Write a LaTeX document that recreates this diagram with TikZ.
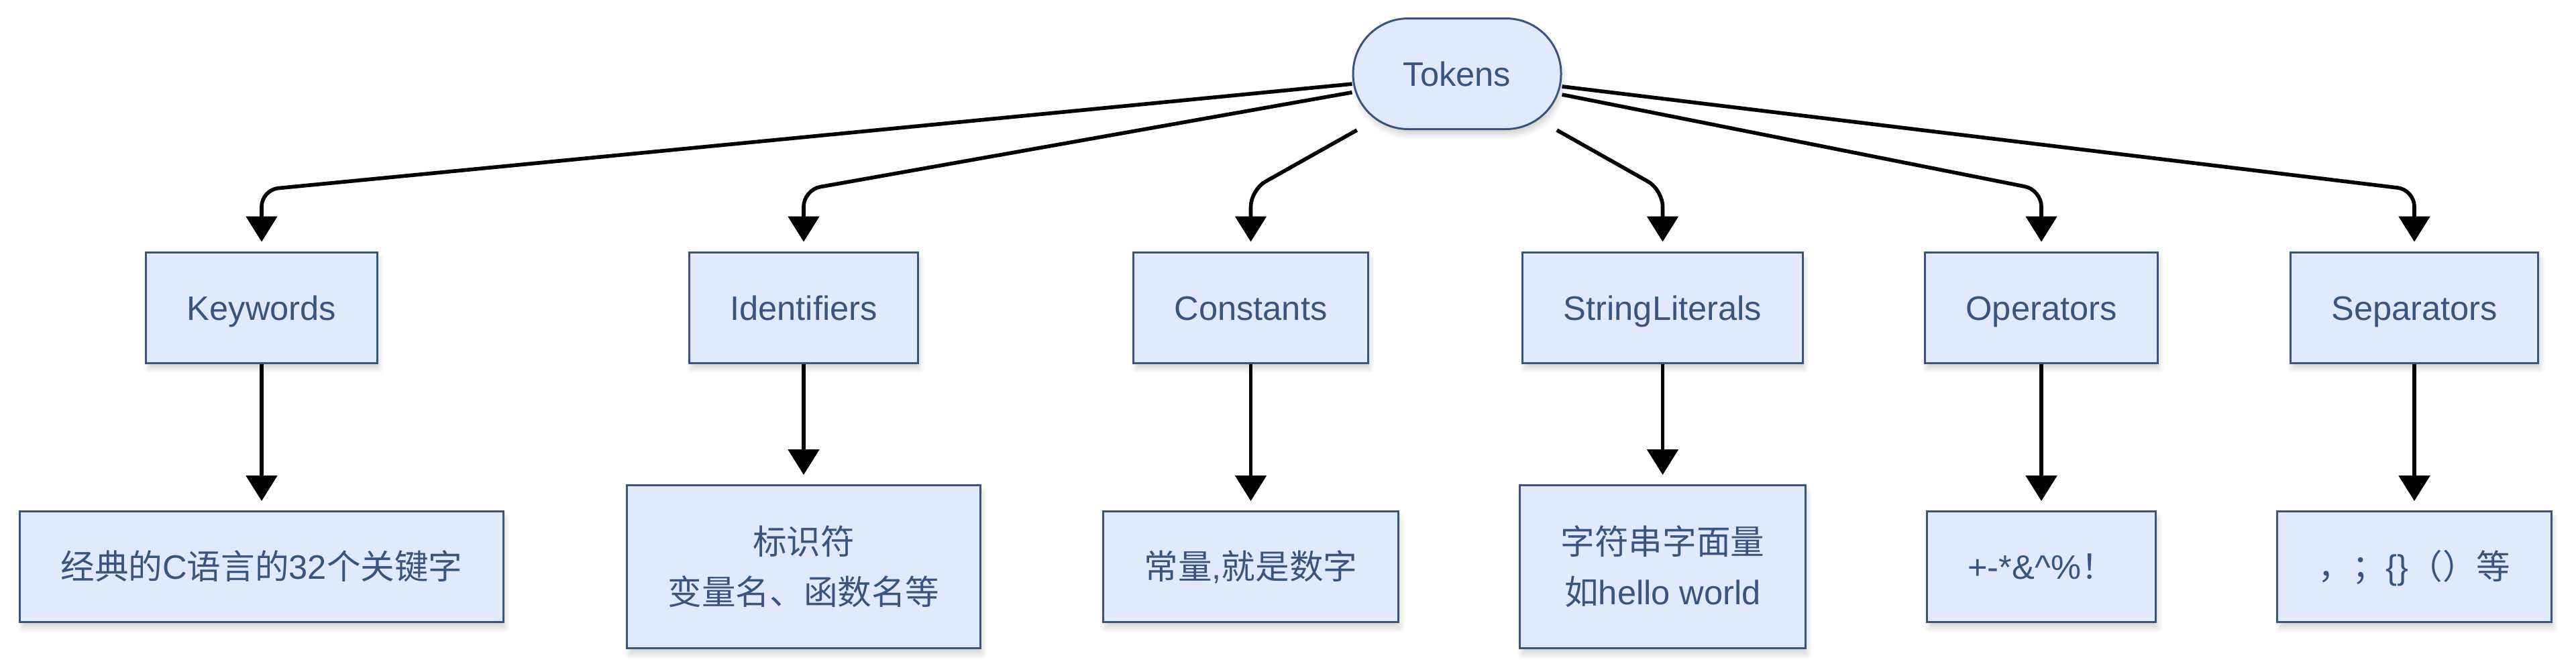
\documentclass[tikz,border=0pt]{standalone}
\usepackage{fontspec}
\setmainfont{Liberation Sans}
\newfontfamily\zhfont{Noto Sans CJK SC}
\usepackage{tikz}
\usetikzlibrary{arrows.meta, positioning, calc, shadows.blur}
\definecolor{boxfill}{RGB}{224,234,252}
\definecolor{boxline}{RGB}{58,84,128}
\newcommand{\zh}[1]{{\zhfont #1}}
\tikzset{
  >={Triangle[length=0.38cm, width=0.46cm]},
  soft/.style  = {blur shadow={shadow xshift=0.3mm, shadow yshift=-0.9mm,
                  shadow blur steps=10, shadow opacity=16}},
  box/.style   = {draw=boxline, line width=0.85pt, fill=boxfill, text=boxline,
                  rectangle, minimum height=1.65cm, inner xsep=0.61cm,
                  font=\fontsize{14.4pt}{21.3pt}\selectfont, align=center, soft},
  cat/.style   = {box, text height=0.37cm, text depth=0pt},
  root/.style  = {cat, rounded corners=0.82cm, minimum width=3.1cm, inner xsep=0pt},
  desc/.style  = {cat},
  tall/.style  = {box, minimum height=2.43cm},
  arrow/.style = {->, line width=1.6pt, shorten >=0.14cm},
}
\begin{document}
\begin{tikzpicture}
  \useasboundingbox (0,0) rectangle (38.4,-9.98);

  % root
  \node[root] (tok) at (21.72,-1.10) {Tokens};

  % token classes
  \node[cat] (kw)  at (3.90,-4.585)  {Keywords};
  \node[cat] (id)  at (11.98,-4.585) {Identifiers};
  \node[cat] (con) at (18.645,-4.585) {Constants};
  \node[cat] (str) at (24.785,-4.585) {StringLiterals};
  \node[cat] (op)  at (30.43,-4.585) {Operators};
  \node[cat] (sep) at (35.99,-4.585) {Separators};

  % descriptions
  \coordinate (descrow) at (0,-8.45);
  \node[desc] (kwd)  at (kw |- descrow)  {\zh{经典的}C\zh{语言的}32\zh{个关键字}};
  \node[tall] (idd)  at (id |- descrow)  {\zh{标识符}\\\zh{变量名、函数名等}};
  \node[desc] (cond) at (con |- descrow) {\zh{常量},\zh{就是数字}};
  \node[tall] (strd) at (str |- descrow) {\zh{字符串字面量}\\\zh{如}hello world};
  \node[desc] (opd)  at (op |- descrow)  {+-*\&\^{}\%\zh{！}};
  \node[desc] (sepd) at (sep |- descrow) {\zh{，；}\{\}\zh{（）等}};

  % connectors
  \coordinate (bend) at (0,-2.83);
  \foreach \n in {kw, id, con, str, op, sep}
    \draw[arrow, rounded corners=0.25cm] (tok) -- (\n.north |- bend) -- (\n.north);
  \foreach \a/\b in {kw/kwd, id/idd, con/cond, str/strd, op/opd, sep/sepd}
    \draw[arrow] (\a) -- (\b);
\end{tikzpicture}
\end{document}
